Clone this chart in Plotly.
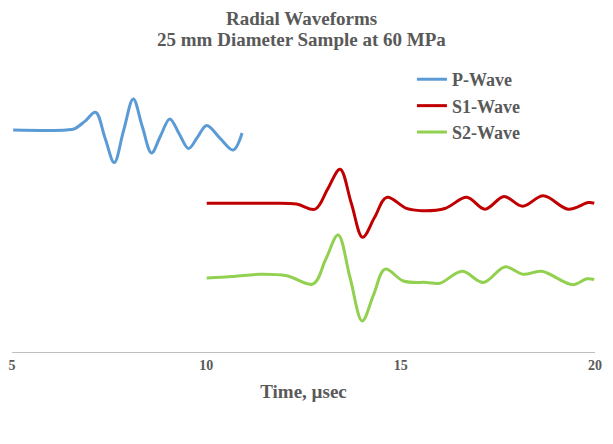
import plotly.graph_objects as go

# values (time in usec, amplitude in arbitrary offset units)
p_time = [5.03, 6.40, 6.62, 6.88, 7.15, 7.39, 7.63, 7.87, 8.12, 8.35, 8.59,
          8.82, 9.06, 9.30, 9.54, 9.77, 10.01, 10.35, 10.69, 10.92]
p_amp = [3.00, 3.00, 3.02, 3.12, 3.24, 2.90, 2.56, 2.99, 3.42, 3.05, 2.69,
         2.92, 3.15, 2.95, 2.75, 2.90, 3.06, 2.89, 2.73, 2.96]

s1_time = [10.01, 11.50, 12.32, 12.80, 13.12, 13.44, 13.73, 14.02, 14.33, 14.64,
           15.15, 15.54, 16.14, 16.70, 17.17, 17.66, 18.14, 18.67, 19.31,
           19.83, 19.98]
s1_amp = [2.01, 2.01, 2.00, 1.93, 2.20, 2.47, 2.01, 1.55, 1.82, 2.09,
          1.94, 1.91, 1.94, 2.09, 1.93, 2.10, 1.97, 2.11, 1.93,
          2.02, 2.01]

s2_time = [10.01, 10.69, 11.38, 12.07, 12.75, 13.07, 13.39, 13.70, 14.01, 14.30,
           14.60, 15.07, 15.67, 16.01, 16.58, 17.13, 17.68, 18.15, 18.63,
           19.43, 19.79, 19.98]
s2_amp = [1.00, 1.02, 1.05, 1.03, 0.92, 1.25, 1.58, 1.00, 0.42, 0.77,
          1.12, 0.96, 0.94, 0.93, 1.09, 0.94, 1.15, 1.05, 1.09,
          0.91, 0.99, 0.98]

x_ticks = [5, 10, 15, 20]

title_lines = ["Radial Waveforms", "25 mm Diameter Sample at 60 MPa"]

font_family = "Liberation Serif"
grey = "#595959"

fig = go.Figure()
fig.add_trace(go.Scatter(x=p_time, y=p_amp, name="<b>P-Wave</b>", mode="lines",
                         line=dict(color="#5B9BD5", width=3, shape="spline", smoothing=1.0)))
fig.add_trace(go.Scatter(x=s1_time, y=s1_amp, name="<b>S1-Wave</b>", mode="lines",
                         line=dict(color="#C00000", width=3, shape="spline", smoothing=1.0)))
fig.add_trace(go.Scatter(x=s2_time, y=s2_amp, name="<b>S2-Wave</b>", mode="lines",
                         line=dict(color="#92D050", width=3, shape="spline", smoothing=1.0)))

# two title lines placed separately to get the tighter line spacing
for txt, ypos in zip(title_lines, [1.128, 1.057]):
    fig.add_annotation(text=f"<b>{txt}</b>", xref="paper", yref="paper",
                       x=0.497, y=ypos, xanchor="center", yanchor="middle",
                       showarrow=False, font=dict(size=19, color=grey, family=font_family))

fig.update_layout(
    width=613, height=444,
    margin=dict(l=12, r=18, t=56, b=92, autoexpand=False),
    paper_bgcolor="white", plot_bgcolor="white",
    font=dict(family=font_family, color=grey),
    legend=dict(x=0.686, y=0.983, xanchor="left", yanchor="top",
                font=dict(size=18, color=grey, family=font_family),
                bgcolor="rgba(0,0,0,0)"),
    showlegend=True,
)
fig.update_xaxes(range=[5, 20], tickvals=x_ticks, ticktext=[f"<b>{t}</b>" for t in x_ticks],
                 showgrid=False, zeroline=False, showline=True, linecolor="#BFBFBF",
                 linewidth=1, ticks="", automargin=False,
                 tickfont=dict(size=14, color=grey),
                 title=dict(text="<b>Time, µsec</b>", font=dict(size=19, color=grey), standoff=12))
fig.update_yaxes(range=[0, 4], showgrid=False, zeroline=False, showline=False,
                 showticklabels=False, ticks="", automargin=False)

fig.write_html("out.html", config={"displayModeBar": False},
               post_script="document.body.style.margin='0';")
